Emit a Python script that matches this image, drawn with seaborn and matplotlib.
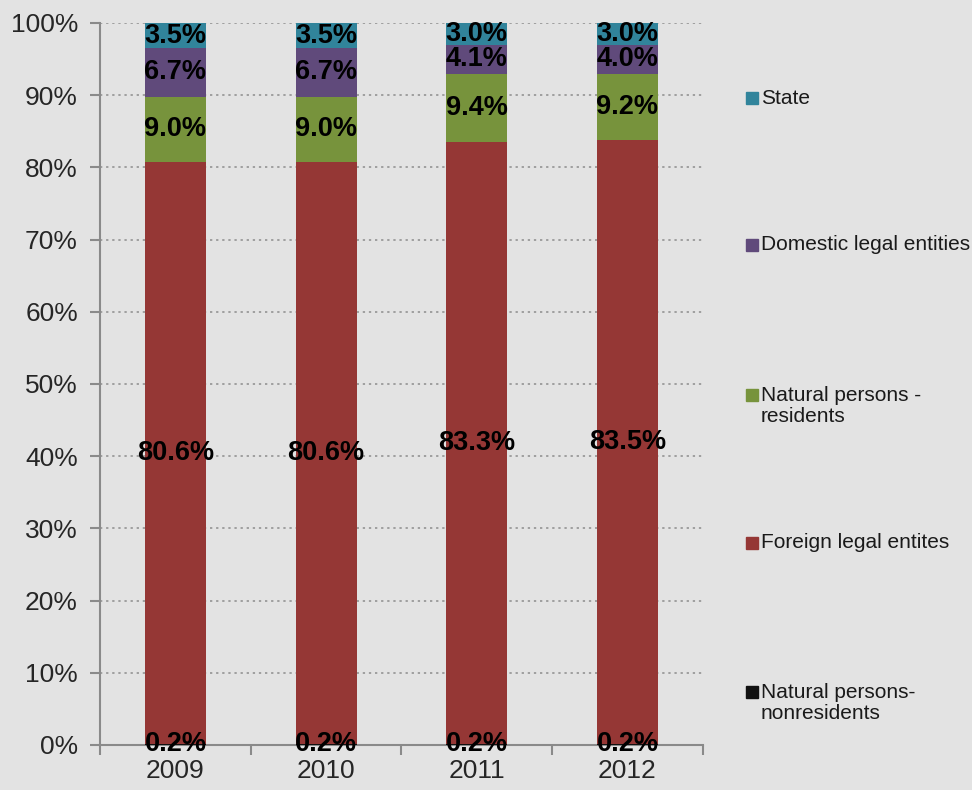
import numpy as np
import pandas as pd
import seaborn as sns
import matplotlib.pyplot as plt
from matplotlib.lines import Line2D

# data (shares in %)
years = ["2009", "2010", "2011", "2012"]
nonresidents = [0.2, 0.2, 0.2, 0.2]
foreign_legal = [80.6, 80.6, 83.3, 83.5]
natural_residents = [9.0, 9.0, 9.4, 9.2]
domestic_legal = [6.7, 6.7, 4.1, 4.0]
state = [3.5, 3.5, 3.0, 3.0]

series_names = ["Natural persons-\nnonresidents", "Foreign legal entites",
                "Natural persons -\nresidents", "Domestic legal entities", "State"]
series_vals = [nonresidents, foreign_legal, natural_residents, domestic_legal, state]
colors = ["#111111", "#953735", "#77933C", "#604A7B", "#31849B"]

bg = "#e3e3e3"
sns.set_theme(style="white")
plt.rcParams["font.family"] = ["Liberation Sans", "DejaVu Sans"]

df = pd.DataFrame(dict(zip(series_names, series_vals)), index=years)
# 100% stacked
df = df.div(df.sum(axis=1), axis=0) * 100
cum = df.cumsum(axis=1)

W, H = 972, 790
fig = plt.figure(figsize=(W / 100, H / 100), dpi=100, facecolor=bg)
ax = fig.add_axes([0.103, 0.057, 0.620, 0.914])
ax.set_facecolor(bg)

# draw tallest cumulative first so lower segments sit on top
for name, col in reversed(list(zip(series_names, colors))):
    sns.barplot(x=years, y=cum[name].values, color=col, width=0.405,
                saturation=1, ax=ax, zorder=3, linewidth=0)

# labels in segment centres
for i, yr in enumerate(years):
    base = 0
    for k, name in enumerate(series_names):
        v = df.loc[yr, name]
        ax.text(i, base + v / 2, f"{series_vals[k][i]:.1f}%", ha="center", va="center",
                fontsize=19.5, fontweight="bold", color="black", zorder=5)
        base += v

ax.set_xlim(-0.5, 3.5)
ax.set_ylim(0, 100)
ax.set_yticks(np.arange(0, 101, 10))
ax.set_yticklabels([f"{t}%" for t in range(0, 101, 10)])
ax.yaxis.grid(True, linestyle=(0, (1.5, 2.5)), color="#8c8c8c", linewidth=1.1, zorder=0)
ax.xaxis.grid(False)

for s in ["top", "right"]:
    ax.spines[s].set_visible(False)
for s in ["left", "bottom"]:
    ax.spines[s].set_color("#8a8a8a")
    ax.spines[s].set_linewidth(1.5)

ax.tick_params(axis="y", which="major", length=7, width=1.5, color="#8a8a8a",
               labelsize=19, pad=9, left=True)
ax.tick_params(axis="x", which="major", length=0, labelsize=19, pad=10)
ax.set_xticks([-0.5, 0.5, 1.5, 2.5, 3.5], minor=True)
ax.tick_params(axis="x", which="minor", length=7, width=1.5, color="#8a8a8a", bottom=True)
ax.set_xlabel("")

# legend entries (top to bottom), marker on first line of each label
marker_y = [98, 245, 395, 543, 692]
text_y = [98, 245, 406, 543, 703]
for k, (name, col) in enumerate(zip(reversed(series_names), reversed(colors))):
    fig.add_artist(Line2D([751.5 / W], [1 - marker_y[k] / H], transform=fig.transFigure,
                          marker="s", markersize=8, linestyle="",
                          markerfacecolor=col, markeredgecolor=col))
    fig.text(761 / W, 1 - text_y[k] / H, name, ha="left", va="center",
             fontsize=15, color="#1a1a1a", linespacing=1.1)

fig.savefig("out.png", dpi=100, facecolor=bg)
